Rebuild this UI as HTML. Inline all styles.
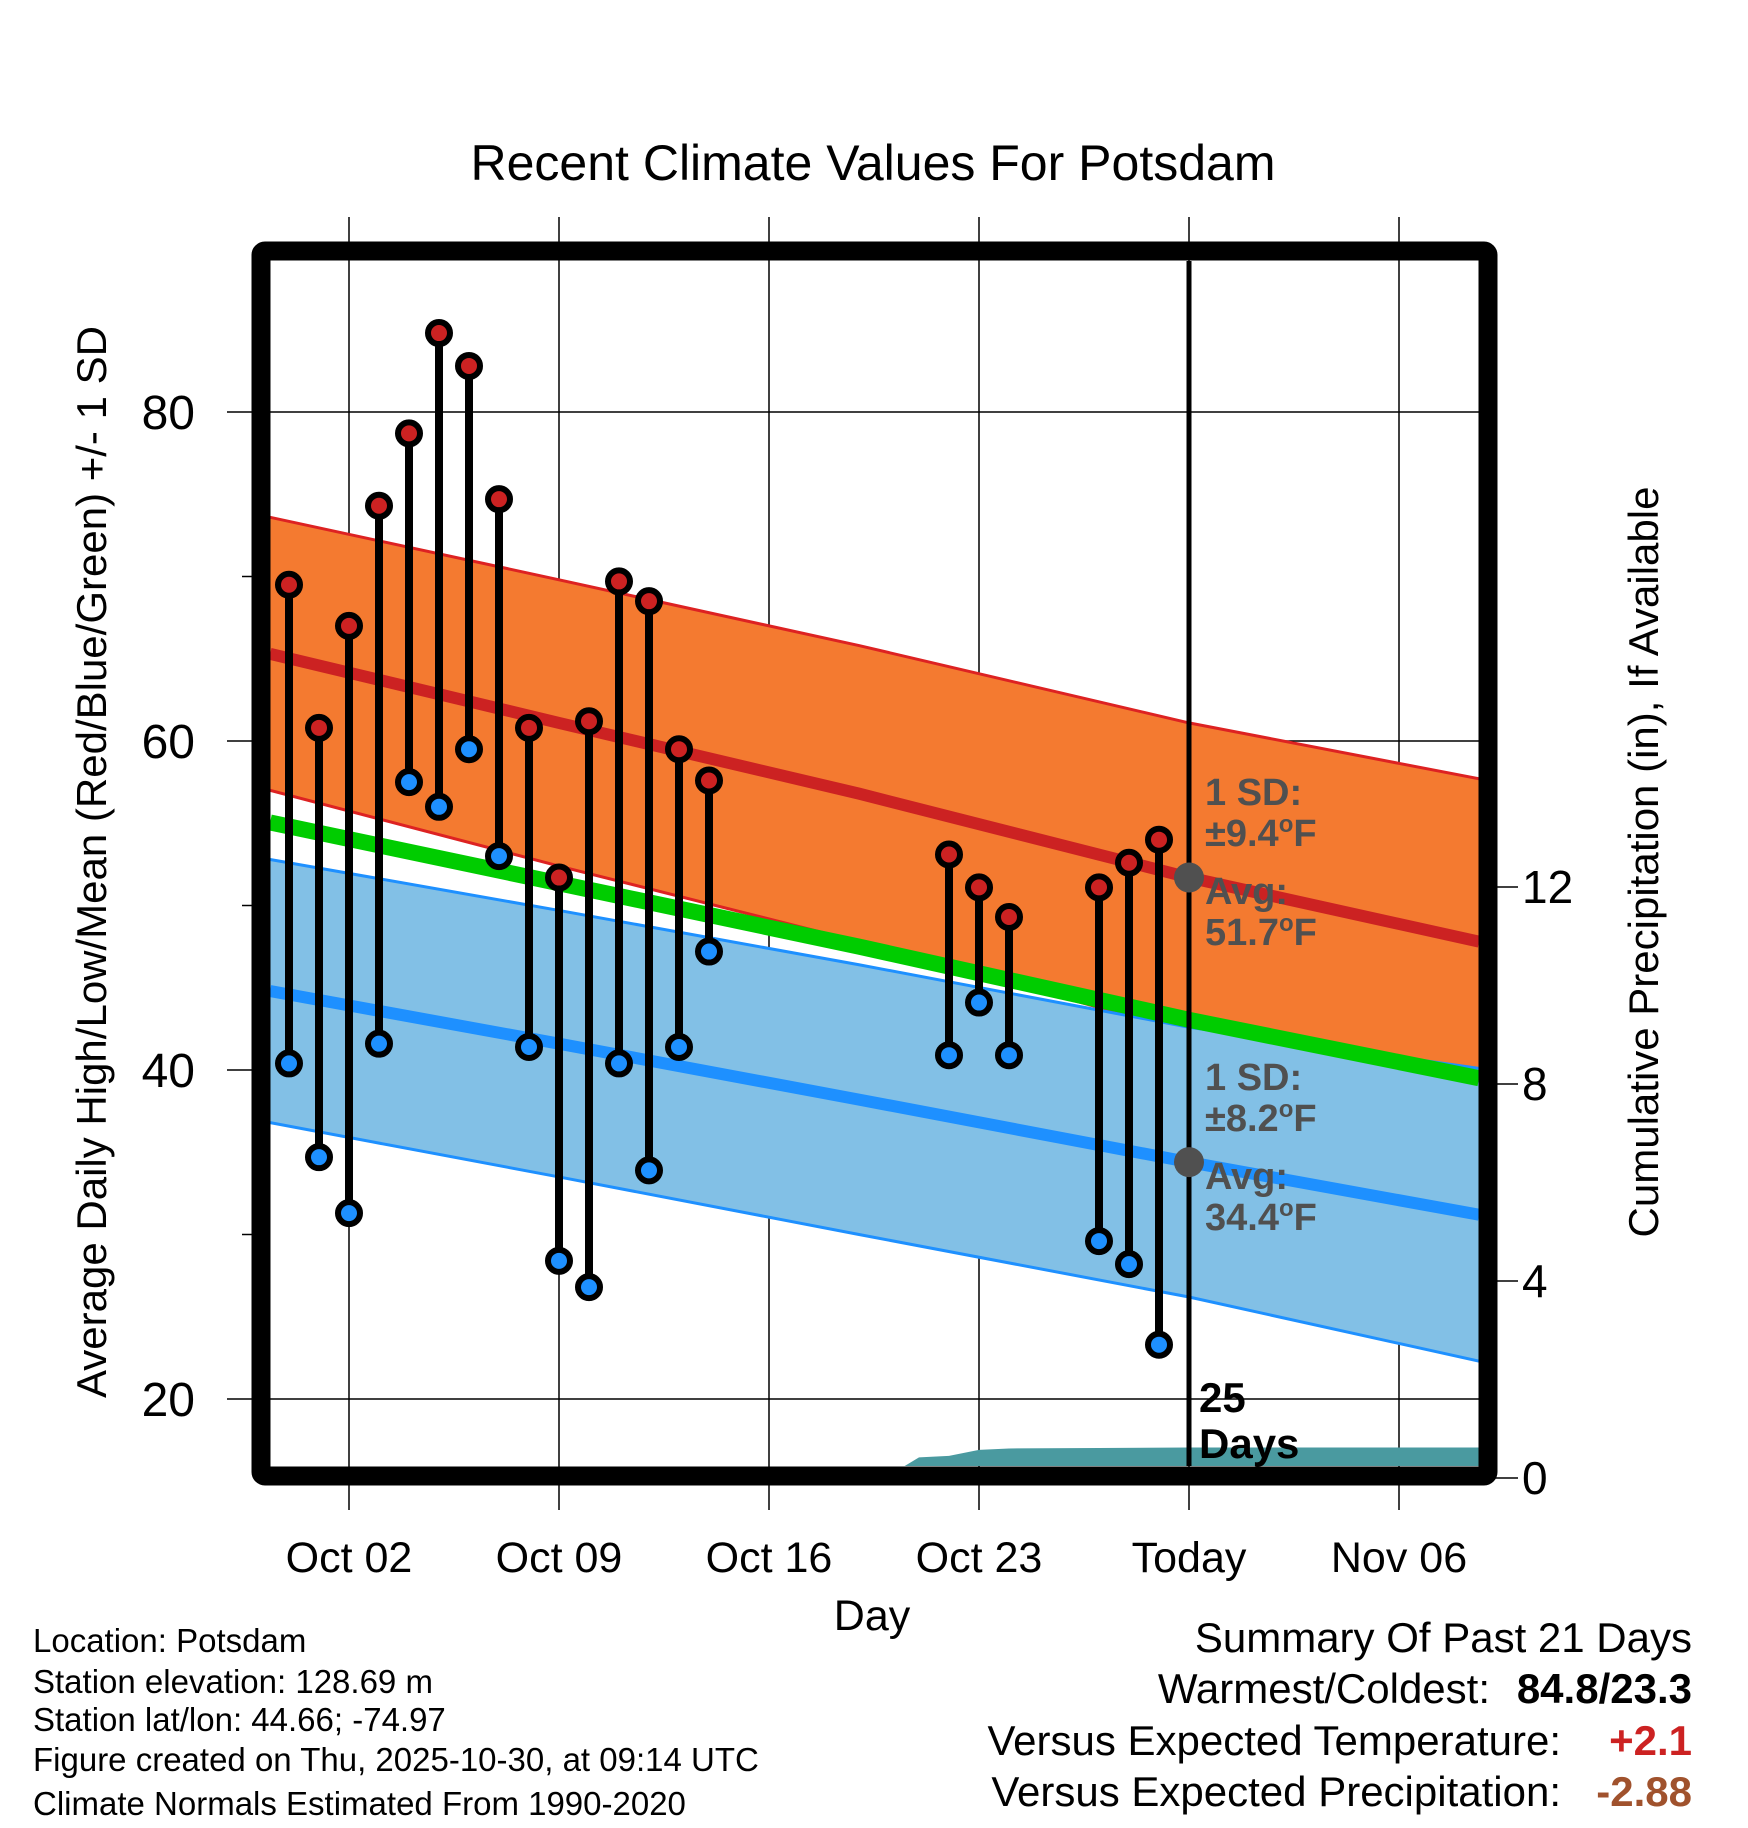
<!DOCTYPE html>
<html><head><meta charset="utf-8"><style>
html,body{margin:0;padding:0;background:#fff}
svg{display:block;font-family:"Liberation Sans",Arial,sans-serif}
</style></head><body>
<svg id="chart" width="1748" height="1828" viewBox="0 0 1748 1828" xmlns="http://www.w3.org/2000/svg">
<defs><clipPath id="pc"><rect x="270" y="261" width="1209" height="1205"/></clipPath></defs>
<rect width="1748" height="1828" fill="#fff"/>
<text x="873" y="180" font-size="50" text-anchor="middle">Recent Climate Values For Potsdam</text>
<g id="grid"></g>
<g id="plot" clip-path="url(#pc)"></g>
<g id="marks"></g>
<rect x="261" y="251" width="1227" height="1225" fill="none" stroke="#000" stroke-width="19" rx="4"/>
<g id="axes"></g>
<text transform="translate(106,862) rotate(-90)" font-size="42" text-anchor="middle">Average Daily High/Low/Mean (Red/Blue/Green) +/- 1 SD</text>
<text transform="translate(1658,862) rotate(-90)" font-size="42" text-anchor="middle">Cumulative Precipitation (in), If Available</text>
<text x="872" y="1630" font-size="43" text-anchor="middle">Day</text>
<g font-weight="bold" font-size="38" fill="#505050">
<text x="1205" y="805">1 SD:</text>
<text x="1205" y="846">±9.4<tspan font-size="24" dy="-14">o</tspan><tspan dy="14">F</tspan></text>
<text x="1205" y="904">Avg:</text>
<text x="1205" y="945">51.7<tspan font-size="24" dy="-14">o</tspan><tspan dy="14">F</tspan></text>
<text x="1205" y="1090">1 SD:</text>
<text x="1205" y="1131">±8.2<tspan font-size="24" dy="-14">o</tspan><tspan dy="14">F</tspan></text>
<text x="1205" y="1189">Avg:</text>
<text x="1205" y="1230">34.4<tspan font-size="24" dy="-14">o</tspan><tspan dy="14">F</tspan></text>
<text x="1199" y="1412" fill="#000" font-size="42">25</text>
<text x="1199" y="1458" fill="#000" font-size="42">Days</text>
</g>
<g font-size="33">
<text x="33" y="1652">Location: Potsdam</text>
<text x="33" y="1693">Station elevation: 128.69 m</text>
<text x="33" y="1731">Station lat/lon: 44.66; -74.97</text>
<text x="33" y="1771">Figure created on Thu, 2025-10-30, at 09:14 UTC</text>
<text x="33" y="1815">Climate Normals Estimated From 1990-2020</text>
</g>
<g font-size="42">
<text x="1692" y="1652" text-anchor="end">Summary Of Past 21 Days</text>
<text x="1490" y="1703" text-anchor="end">Warmest/Coldest:</text>
<text x="1692" y="1703" text-anchor="end" font-weight="bold">84.8/23.3</text>
<text x="1561" y="1755" text-anchor="end">Versus Expected Temperature:</text>
<text x="1692" y="1755" text-anchor="end" font-weight="bold" fill="#cc2222">+2.1</text>
<text x="1561" y="1806" text-anchor="end">Versus Expected Precipitation:</text>
<text x="1692" y="1806" text-anchor="end" font-weight="bold" fill="#a0522d">-2.88</text>
</g>
</svg>
<script>
// days relative to Oct 02
const obsDays = [-2,-1,0,1,2,3,4,5,6,7,8,9,10,11,12,20,21,22,25,26,27];
const highs = [69.5,60.8,67.0,74.3,78.7,84.8,82.8,74.7,60.8,51.7,61.2,69.7,68.5,59.5,57.6,53.1,51.1,49.3,51.1,52.6,54.0];
const lows  = [40.4,34.7,31.3,41.6,57.5,56.0,59.5,53.0,41.4,28.4,26.8,40.4,33.9,41.4,47.2,40.9,44.1,40.9,29.6,28.2,23.3];
const normDays = [-2.63,7,17,28,37.67];
const normHigh = [65.3,61.1,56.8,51.7,47.8];
const sdHigh = [8.3,8.7,9.0,9.4,9.9];
const normLow = [44.8,41.6,38.2,34.4,31.2];
const sdLow = [8.0,8.1,8.2,8.2,8.9];
const precipDays = [-3,11,12,17,18,19,20,21,22,25,28,38];
const precipCum = [0,0,0.02,0.02,0.05,0.42,0.45,0.57,0.6,0.61,0.62,0.62];
const yTicks = [20,40,60,80];
const pTicks = [0,4,8,12];
const xTickDays = [0,7,14,21,28,35];
const xTickLabels = ["Oct 02","Oct 09","Oct 16","Oct 23","Today","Nov 06"];
const todayDay = 28;

const NS="http://www.w3.org/2000/svg";
const X=d=>349+30*d, Y=t=>412+(80-t)*16.45, YP=p=>1478-p*49.25;
function mk(tag,attrs,parent){const e=document.createElementNS(NS,tag);for(const k in attrs)e.setAttribute(k,attrs[k]);parent.appendChild(e);return e;}
const grid=document.getElementById('grid'),plot=document.getElementById('plot'),marks=document.getElementById('marks'),axes=document.getElementById('axes');

yTicks.forEach(t=>{const l=mk('line',{x1:227,x2:1479,y1:Y(t),y2:Y(t),stroke:'#000','stroke-width':1.5},grid);

});
xTickDays.forEach(d=>{const l=mk('line',{x1:X(d),x2:X(d),y1:217,y2:1510,stroke:'#000','stroke-width':1.5},grid);

});
[30,50,70].forEach(t=>{mk('line',{x1:242,x2:258,y1:Y(t),y2:Y(t),stroke:'#000','stroke-width':1.5},grid);});

function band(mean,sd,fill,edge,name){
  let top=normDays.map((d,i)=>X(d)+','+Y(mean[i]+sd[i]));
  let bot=normDays.map((d,i)=>X(d)+','+Y(mean[i]-sd[i])).reverse();
  const p=mk('polygon',{points:top.concat(bot).join(' '),fill:fill},plot);
  
  
  mk('polyline',{points:top.join(' '),fill:'none',stroke:edge,'stroke-width':3},plot);
  mk('polyline',{points:bot.reverse().join(' '),fill:'none',stroke:edge,'stroke-width':3},plot);
}
band(normHigh,sdHigh,'#f47a30','#d22','high-sd-band');
band(normLow,sdLow,'#82c0e6','#1e90ff','low-sd-band');
function line(vals,color,w,name){
  const l=mk('polyline',{points:normDays.map((d,i)=>X(d)+','+Y(vals[i])).join(' '),fill:'none',stroke:color,'stroke-width':w},plot);
  
  
}
line(normHigh.map((h,i)=>(h+normLow[i])/2),'#00cc00',16,'mean-normal-line');
line(normHigh,'#cc2222',12,'high-normal-line');
line(normLow,'#1e90ff',12,'low-normal-line');

{let pts=[X(precipDays[0])+','+YP(0)];precipDays.forEach((d,i)=>pts.push(X(d)+','+YP(precipCum[i])));pts.push(X(precipDays[precipDays.length-1])+','+YP(0));
const a=mk('polygon',{points:pts.join(' '),fill:'#4a9aa0'},plot);

}

{const l=mk('line',{x1:X(todayDay),x2:X(todayDay),y1:255,y2:1470,stroke:'#000','stroke-width':5},plot);

}
[[normHigh[3],'high-avg-dot'],[normLow[3],'low-avg-dot']].forEach(([v,n])=>{const c=mk('circle',{cx:X(todayDay),cy:Y(v),r:15,fill:'#505050'},plot);

});

obsDays.forEach((d,i)=>{
  const s=mk('line',{x1:X(d),x2:X(d),y1:Y(highs[i]),y2:Y(lows[i]),stroke:'#000','stroke-width':8},marks);
  
  
  const h=mk('circle',{cx:X(d),cy:Y(highs[i]),r:11,fill:'#cc2222',stroke:'#000','stroke-width':6},marks);
  
  
  const l=mk('circle',{cx:X(d),cy:Y(lows[i]),r:11,fill:'#1e90ff',stroke:'#000','stroke-width':6},marks);
  
  
});

yTicks.forEach(t=>{const e=mk('text',{x:195,y:Y(t)+17,'font-size':48,'text-anchor':'end'},axes);e.textContent=t;

});
pTicks.forEach(p=>{mk('line',{x1:1488,x2:1518,y1:YP(p),y2:YP(p),stroke:'#000','stroke-width':1.5},axes);
const e=mk('text',{x:1522,y:YP(p)+16,'font-size':46},axes);e.textContent=p;

});
xTickDays.forEach((d,i)=>{const e=mk('text',{x:X(d),y:1572,'font-size':43,'text-anchor':'middle'},axes);e.textContent=xTickLabels[i];

});
</script>
</body></html>
